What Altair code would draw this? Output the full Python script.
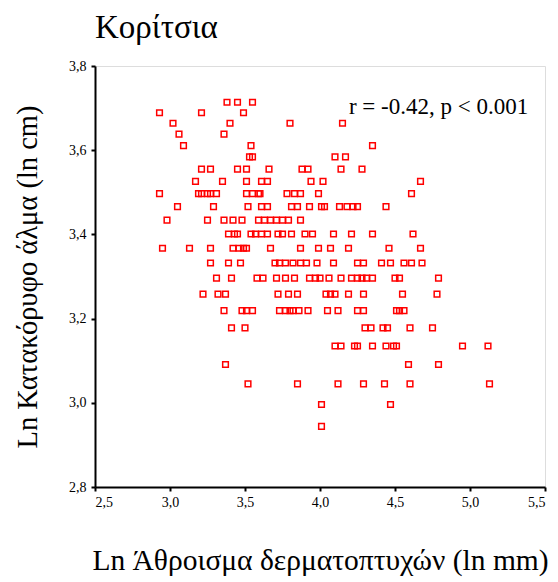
import altair as alt
import pandas as pd

# Ln vertical jump levels (rows of the scatter) and Ln skinfold sums for each row
y_levels = [3.714, 3.689, 3.664, 3.638, 3.611, 3.584, 3.555, 3.526, 3.497, 3.466,
            3.434, 3.401, 3.367, 3.332, 3.296, 3.258, 3.219, 3.178, 3.135, 3.091,
            3.045, 2.996, 2.944]
x_rows = [
    [3.38, 3.45, 3.55],
    [2.93, 3.21, 3.49],
    [3.02, 3.40, 3.80, 4.15],
    [3.06, 3.36],
    [3.09, 3.54, 4.35],
    [3.53, 3.55, 4.10, 4.17],
    [3.21, 3.27, 3.45, 3.51, 3.66, 3.88, 3.92, 4.14, 4.28],
    [3.17, 3.35, 3.51, 3.61, 3.65, 3.94, 4.02, 4.67],
    [2.93, 3.19, 3.21, 3.25, 3.27, 3.31, 3.51, 3.55, 3.59, 3.60, 3.78, 3.83, 3.87, 3.99, 4.61],
    [3.05, 3.29, 3.52, 3.61, 3.65, 3.81, 3.85, 3.93, 4.01, 4.03, 4.13, 4.18, 4.22, 4.25, 4.44],
    [2.98, 3.25, 3.36, 3.42, 3.48, 3.59, 3.63, 3.67, 3.71, 3.75, 3.79, 3.87],
    [3.39, 3.43, 3.45, 3.54, 3.57, 3.61, 3.65, 3.72, 3.75, 3.81, 3.90, 3.95, 4.09, 4.21, 4.35, 4.62],
    [2.95, 3.13, 3.27, 3.42, 3.46, 3.49, 3.51, 3.67, 3.87, 3.99, 4.07, 4.19, 4.46, 4.67],
    [3.27, 3.39, 3.47, 3.70, 3.73, 3.77, 3.82, 3.87, 3.91, 3.98, 4.09, 4.25, 4.29, 4.41, 4.47, 4.56, 4.61, 4.68],
    [3.31, 3.41, 3.58, 3.62, 3.71, 3.77, 3.83, 3.93, 3.97, 4.00, 4.06, 4.14, 4.21, 4.25, 4.28, 4.31, 4.35, 4.50, 4.53, 4.79],
    [3.22, 3.32, 3.37, 3.72, 3.79, 3.85, 4.04, 4.07, 4.10, 4.19, 4.29, 4.55, 4.78],
    [3.36, 3.48, 3.51, 3.55, 3.73, 3.77, 3.80, 3.82, 3.86, 3.92, 4.05, 4.12, 4.25, 4.29, 4.51, 4.53, 4.56],
    [3.41, 3.50, 4.30, 4.34, 4.42, 4.45, 4.60, 4.75],
    [4.10, 4.14, 4.23, 4.25, 4.35, 4.44, 4.49, 4.51, 4.95, 5.12],
    [3.37, 4.59, 4.79],
    [3.52, 3.85, 4.12, 4.29, 4.43, 4.60, 5.13],
    [4.01, 4.47],
    [4.01],
]

x_ticks = [2.5, 3.0, 3.5, 4.0, 4.5, 5.0, 5.5]
y_ticks = [2.8, 3.0, 3.2, 3.4, 3.6, 3.8]

title_text = "Κορίτσια"
x_title = "Ln  Άθροισμα δερματοπτυχών (ln mm)"
y_title = "Ln Κατακόρυφο άλμα (ln cm)"
note_text = "r = -0.42, p < 0.001"
note_x = [4.79]
note_y = [3.703]

rows = []
for yv, xs in zip(y_levels, x_rows):
    for xv in xs:
        rows.append({"x": xv, "y": yv})
df = pd.DataFrame(rows)
note_df = pd.DataFrame({"x": note_x, "y": note_y, "t": [note_text]})

FONT = "Liberation Serif"
label_expr = "replace(format(datum.value, '.1f'), '.', ',')"

x_enc = alt.X("x:Q", scale=alt.Scale(domain=[2.5, 5.5], nice=False, zero=False),
              axis=alt.Axis(values=x_ticks, labelExpr=label_expr, title=x_title,
                            grid=False, tickSize=4, tickWidth=2, domainWidth=2,
                            domainColor="black", tickColor="black",
                            labelFont=FONT, labelFontSize=14, labelColor="black",
                            labelPadding=4, titleFont=FONT, titleFontSize=29.5,
                            titleFontWeight="normal", titleColor="black",
                            titlePadding=37))
y_enc = alt.Y("y:Q", scale=alt.Scale(domain=[2.8, 3.8], nice=False, zero=False),
              axis=alt.Axis(values=y_ticks, labelExpr=label_expr, title=y_title,
                            grid=False, tickSize=4, tickWidth=2, domainWidth=2,
                            domainColor="black", tickColor="black",
                            labelFont=FONT, labelFontSize=14, labelColor="black",
                            labelPadding=5, titleFont=FONT, titleFontSize=28.5,
                            titleFontWeight="normal", titleColor="black",
                            titlePadding=26))

points = alt.Chart(df).mark_point(shape="square", filled=False, color="#FF0000",
                                  size=32, strokeWidth=1.5, opacity=1).encode(x=x_enc, y=y_enc)

note = alt.Chart(note_df).mark_text(font=FONT, fontSize=23, color="black",
                                    align="center", baseline="middle").encode(
    x="x:Q", y="y:Q", text="t:N")

chart = alt.layer(points, note).properties(
    width=450, height=421,
    title=alt.TitleParams(text=title_text, anchor="start", frame="group", font=FONT,
                          fontSize=33, fontWeight="normal", color="black", offset=14),
    autosize=alt.AutoSizeParams(type="none"),
    padding={"left": 95, "top": 66, "right": 13, "bottom": 95},
).configure_view(stroke="black", strokeWidth=2).configure(background="white")

chart.save("out.html", embed_options={"renderer": "svg", "actions": False})
